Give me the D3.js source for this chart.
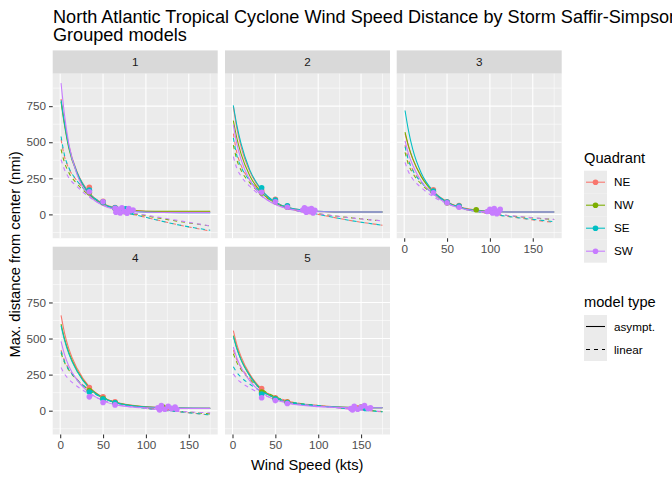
<!doctype html>
<html lang="en">
<head>
    <title>Wind Speed Distance</title>
    <script src="https://d3js.org/d3.v7.min.js"></script>
    <style>
        body { margin: 0; background: white; }
        svg { font-family: "Liberation Sans", Arial, sans-serif; display: block; }
    </style>
</head>
<body>
    <script>
       // categories and series
       const panels = ["1", "2", "3", "4", "5"];
       const quadrants = ["NE", "NW", "SE", "SW"];
       const quadColors = ["#F8766D", "#7CAE00", "#00BFC4", "#C77CFF"];
       const modelTypes = ["asympt.", "linear"];
       const windGrid = [1, 5, 10, 20, 34, 50, 64, 100, 140, 175];
       const xTicks = [0, 50, 100, 150];
       const yTicks = [0, 250, 500, 750];

       // fitted curves, one row per quadrant (NE, NW, SE, SW), values at windGrid
       const cat1Asympt = [
           [800, 640, 480, 290, 150, 75, 45, 22, 18, 18],
           [780, 620, 460, 280, 140, 70, 42, 22, 22, 22],
           [790, 630, 470, 285, 145, 72, 42, 15, 12, 12],
           [910, 690, 490, 270, 130, 62, 35, 15, 12, 12]
       ];
       const cat1Linear = [
           [520, 400, 320, 230, 140, 75, 35, -20, -75, -115],
           [450, 360, 290, 210, 130, 70, 35, -10, -50, -80],
           [540, 410, 325, 230, 140, 75, 35, -20, -75, -110],
           [380, 310, 255, 190, 120, 65, 35, -5, -45, -80]
       ];
       const cat2Asympt = [
           [745, 600, 470, 300, 165, 85, 50, 22, 16, 16],
           [650, 530, 420, 270, 150, 78, 45, 20, 16, 16],
           [755, 620, 490, 310, 170, 85, 50, 22, 16, 16],
           [620, 490, 380, 240, 130, 68, 40, 18, 16, 16]
       ];
       const cat2Linear = [
           [560, 430, 340, 240, 150, 85, 45, 0, -45, -75],
           [480, 380, 305, 220, 140, 80, 45, 5, -25, -45],
           [530, 410, 330, 235, 148, 85, 45, 0, -45, -75],
           [400, 320, 265, 195, 125, 72, 40, 5, -25, -45]
       ];
       const cat3Asympt = [
           [560, 470, 385, 265, 160, 88, 52, 22, 16, 16],
           [570, 475, 385, 260, 155, 85, 50, 20, 16, 16],
           [720, 580, 450, 285, 160, 85, 50, 20, 16, 16],
           [510, 420, 340, 230, 140, 75, 45, 18, 16, 16]
       ];
       const cat3Linear = [
           [480, 380, 310, 225, 145, 85, 50, 5, -30, -56],
           [430, 345, 285, 210, 138, 82, 48, 8, -20, -35],
           [470, 375, 305, 222, 143, 85, 50, 5, -28, -50],
           [360, 295, 245, 185, 122, 75, 45, 8, -18, -35]
       ];
       const cat4Asympt = [
           [660, 540, 430, 290, 165, 92, 60, 28, 18, 16],
           [600, 500, 405, 275, 160, 90, 58, 26, 18, 16],
           [590, 490, 395, 270, 155, 88, 56, 25, 18, 16],
           [480, 390, 310, 210, 125, 68, 42, 20, 16, 16]
       ];
       const cat4Linear = [
           [420, 350, 290, 215, 145, 90, 58, 18, -8, -30],
           [400, 335, 282, 212, 143, 90, 58, 20, -5, -22],
           [410, 340, 285, 212, 142, 88, 56, 16, -8, -30],
           [300, 255, 218, 168, 115, 72, 47, 15, -5, -15]
       ];
       const cat5Asympt = [
           [555, 460, 375, 255, 150, 90, 62, 35, 22, 20],
           [520, 435, 355, 245, 145, 88, 60, 33, 22, 20],
           [515, 430, 352, 243, 143, 87, 58, 32, 22, 20],
           [440, 365, 300, 208, 125, 75, 52, 28, 20, 20]
       ];
       const cat5Linear = [
           [420, 355, 300, 225, 150, 96, 68, 35, 10, -8],
           [395, 335, 285, 218, 148, 96, 68, 36, 12, -5],
           [305, 265, 232, 185, 132, 90, 65, 35, 10, -8],
           [255, 222, 195, 158, 115, 80, 58, 32, 10, -5]
       ];

       // observations: [quadrant index, wind speed, distance]
       const cat1Points = [
           [0,34,187],[0,50,90],[0,64,48],[0,66,30],[0,72,22],[0,78,35],[0,82,18],
           [1,34,150],[1,50,82],[1,64,40],[1,68,28],[1,75,20],[1,80,30],
           [2,34,168],[2,50,85],[2,64,45],[2,70,25],[2,76,38],[2,83,20],
           [3,34,157],[3,50,88],[3,64,42],[3,65,15],[3,68,35],[3,70,10],[3,72,45],
           [3,75,20],[3,78,8],[3,80,40],[3,82,25],[3,85,30]
       ];
       const cat2Points = [
           [0,34,165],[0,50,105],[0,64,58],[0,85,30],[0,90,20],
           [1,34,150],[1,50,90],[1,64,50],[1,88,25],
           [2,34,184],[2,50,100],[2,64,60],[2,86,22],[2,92,30],
           [3,34,153],[3,50,88],[3,64,50],[3,82,30],[3,84,45],[3,86,15],[3,88,35],
           [3,90,20],[3,92,40],[3,94,10],[3,96,28]
       ];
       const cat3Points = [
           [0,34,170],[0,50,88],[0,64,62],[0,100,25],
           [1,34,158],[1,50,80],[1,64,55],[1,84,32],
           [2,34,162],[2,50,86],[2,64,58],[2,104,20],
           [3,34,150],[3,50,80],[3,64,50],[3,97,20],[3,100,35],[3,103,10],[3,105,40],
           [3,107,25],[3,110,15],[3,112,35],[3,108,5]
       ];
       const cat4Points = [
           [0,34,160],[0,50,96],[0,64,62],[0,125,20],
           [1,34,140],[1,50,85],[1,64,55],[1,120,25],
           [2,34,130],[2,50,80],[2,64,55],[2,130,15],
           [3,34,96],[3,50,57],[3,64,40],[3,114,20],[3,118,35],[3,122,10],[3,126,30],
           [3,130,15],[3,134,25],[3,136,10],[3,116,5]
       ];
       const cat5Points = [
           [0,34,154],[0,50,90],[0,64,62],[0,145,20],
           [1,34,130],[1,50,85],[1,64,58],[1,150,25],
           [2,34,115],[2,50,80],[2,64,55],[2,155,15],
           [3,34,90],[3,50,70],[3,64,50],[3,138,15],[3,142,30],[3,146,10],[3,150,25],
           [3,154,35],[3,158,15],[3,161,20],[3,140,5]
       ];

       const asymptByPanel = [cat1Asympt, cat2Asympt, cat3Asympt, cat4Asympt, cat5Asympt];
       const linearByPanel = [cat1Linear, cat2Linear, cat3Linear, cat4Linear, cat5Linear];
       const pointsByPanel = [cat1Points, cat2Points, cat3Points, cat4Points, cat5Points];

       let width = 672, height = 480;
       const colLeft = [52.7, 225, 396.7], rowTop = [73.7, 270];
       const pw = 165, ph = 164.5, stripH = 23.3;

       const svg = d3.select('body').append('svg')
           .attr('width', width).attr('height', height);

       svg.append('rect').attr('width', width).attr('height', height).attr('fill', 'white');

       // title (runs off the right edge, as in the original)
       svg.append('text').attr('x', 53).attr('y', 23)
           .attr('font-size', 18.1).attr('fill', 'black')
           .text('North Atlantic Tropical Cyclone Wind Speed Distance by Storm Saffir-Simpson Category');
       svg.append('text').attr('x', 53).attr('y', 41)
           .attr('font-size', 18.1).attr('fill', 'black')
           .text('Grouped models');

       const x = d3.scaleLinear().domain([-8.75, 183.75]).range([0, pw]);
       const y = d3.scaleLinear().domain([-165, 975]).range([ph, 0]);
       const color = d3.scaleOrdinal().domain(quadrants).range(quadColors);

       const line = d3.line()
           .x(d => x(d[0]))
           .y(d => y(d[1]))
           .curve(d3.curveMonotoneX);

       panels.forEach(function (p, i) {
           let col = i % 3, row = Math.floor(i / 3);
           let g = svg.append('g')
               .attr('transform', `translate(${colLeft[col]}, ${rowTop[row]})`);

           // strip
           g.append('rect').attr('x', 0).attr('y', -stripH)
               .attr('width', pw).attr('height', stripH).attr('fill', '#D9D9D9');
           g.append('text').attr('x', pw / 2).attr('y', -stripH / 2 + 4)
               .attr('text-anchor', 'middle').attr('font-size', 11.7).attr('fill', '#1A1A1A')
               .text(p);

           // panel + grid
           g.append('rect').attr('width', pw).attr('height', ph).attr('fill', '#EBEBEB');
           let minorX = [25, 75, 125, 175], minorY = [-125, 125, 375, 625, 875];
           g.selectAll('.mx').data(minorX).enter().append('line')
               .attr('x1', d => x(d)).attr('x2', d => x(d)).attr('y1', 0).attr('y2', ph)
               .attr('stroke', 'white').attr('stroke-width', 0.55);
           g.selectAll('.my').data(minorY).enter().append('line')
               .attr('y1', d => y(d)).attr('y2', d => y(d)).attr('x1', 0).attr('x2', pw)
               .attr('stroke', 'white').attr('stroke-width', 0.55);
           g.selectAll('.gx').data(xTicks).enter().append('line')
               .attr('x1', d => x(d)).attr('x2', d => x(d)).attr('y1', 0).attr('y2', ph)
               .attr('stroke', 'white').attr('stroke-width', 1.1);
           g.selectAll('.gy').data(yTicks).enter().append('line')
               .attr('y1', d => y(d)).attr('y2', d => y(d)).attr('x1', 0).attr('x2', pw)
               .attr('stroke', 'white').attr('stroke-width', 1.1);

           // curves
           let curves = [];
           quadrants.forEach(function (q, qi) {
               curves.push({ q: q, type: 'linear',
                   pts: windGrid.map((w, k) => [w, linearByPanel[i][qi][k]]) });
               curves.push({ q: q, type: 'asympt.',
                   pts: windGrid.map((w, k) => [w, asymptByPanel[i][qi][k]]) });
           });
           g.selectAll('path.curve').data(curves).enter().append('path')
               .attr('class', 'curve')
               .attr('d', d => line(d.pts))
               .attr('fill', 'none')
               .attr('stroke', d => color(d.q))
               .attr('stroke-width', 1.07)
               .attr('stroke-dasharray', d => d.type === 'linear' ? '4,4' : null);

           // points
           g.selectAll('circle').data(pointsByPanel[i]).enter().append('circle')
               .attr('cx', d => x(d[1])).attr('cy', d => y(d[2])).attr('r', 2.8)
               .attr('fill', d => quadColors[d[0]]);

           // axes
           if (col === 0) {
               let ay = g.append('g').call(d3.axisLeft(y).tickValues(yTicks)
                   .tickSize(3.67).tickPadding(2.9));
               ay.select('.domain').remove();
               ay.selectAll('line').attr('stroke', '#333333').attr('stroke-width', 1.07);
               ay.selectAll('text').attr('fill', '#4D4D4D').attr('font-size', 11.7)
                   .attr('font-family', '"Liberation Sans", Arial, sans-serif');
           }
           if (row === 1 || i === 2) {
               let ax = g.append('g').attr('transform', `translate(0, ${ph})`)
                   .call(d3.axisBottom(x).tickValues(xTicks).tickSize(3.67).tickPadding(2.9));
               ax.select('.domain').remove();
               ax.selectAll('line').attr('stroke', '#333333').attr('stroke-width', 1.07);
               ax.selectAll('text').attr('fill', '#4D4D4D').attr('font-size', 11.7)
                   .attr('font-family', '"Liberation Sans", Arial, sans-serif');
           }
       });

       // axis titles
       svg.append('text').attr('x', 307.2).attr('y', 470)
           .attr('text-anchor', 'middle').attr('font-size', 14.67).text('Wind Speed (kts)');
       svg.append('text')
           .attr('transform', 'translate(20, 254.5) rotate(-90)')
           .attr('text-anchor', 'middle').attr('font-size', 14.67)
           .text('Max. distance from center (nmi)');

       // legend: Quadrant
       let lg = svg.append('g').attr('transform', 'translate(584, 0)');
       lg.append('text').attr('x', 0).attr('y', 163).attr('font-size', 14.67).text('Quadrant');
       quadrants.forEach(function (q, qi) {
           let ky = 170.7 + qi * 23;
           lg.append('rect').attr('x', 0).attr('y', ky).attr('width', 23).attr('height', 23)
               .attr('fill', '#EBEBEB');
           lg.append('line').attr('x1', 2).attr('x2', 21).attr('y1', ky + 11.5).attr('y2', ky + 11.5)
               .attr('stroke', color(q)).attr('stroke-width', 1.07);
           lg.append('circle').attr('cx', 11.5).attr('cy', ky + 11.5).attr('r', 2.8)
               .attr('fill', color(q));
           lg.append('text').attr('x', 30).attr('y', ky + 15.5).attr('font-size', 11.7).text(q);
       });

       // legend: model type
       lg.append('text').attr('x', 0).attr('y', 307).attr('font-size', 14.67).text('model type');
       modelTypes.forEach(function (m, mi) {
           let ky = 315 + mi * 23;
           lg.append('rect').attr('x', 0).attr('y', ky).attr('width', 23).attr('height', 23)
               .attr('fill', '#EBEBEB');
           lg.append('line').attr('x1', 2).attr('x2', 21).attr('y1', ky + 11.5).attr('y2', ky + 11.5)
               .attr('stroke', 'black').attr('stroke-width', 1.07)
               .attr('stroke-dasharray', m === 'linear' ? '4,4' : null);
           lg.append('text').attr('x', 30).attr('y', ky + 15.5).attr('font-size', 11.7).text(m);
       });
    </script>
</body>
</html>
